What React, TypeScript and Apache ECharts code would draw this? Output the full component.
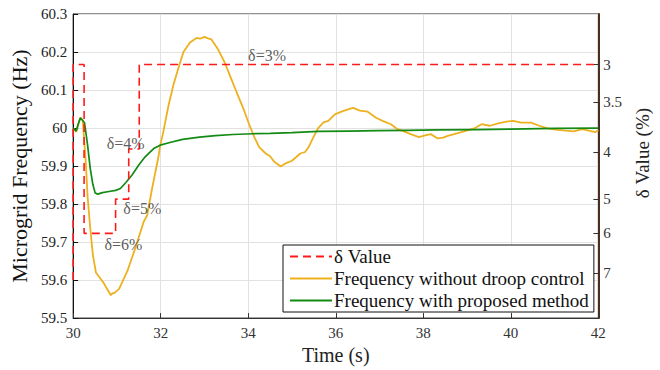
import React, { useEffect, useRef } from "react";
import * as echarts from "echarts";

const FONT = "'Liberation Serif', 'Times New Roman', serif";

// Frequency without droop control (orange)
const orangeTime = [30.0, 30.07, 30.12, 30.165, 30.22, 30.29, 30.33, 30.39, 30.45, 30.52, 30.63, 30.7, 30.75, 30.86, 30.9, 30.93, 31.05, 31.24, 31.42, 31.61, 31.69, 31.8, 31.95, 31.99, 32.06, 32.18, 32.29, 32.4, 32.52, 32.67, 32.82, 32.9, 33.0, 33.08, 33.16, 33.31, 33.46, 33.61, 33.76, 33.91, 34.02, 34.14, 34.25, 34.4, 34.5, 34.59, 34.74, 34.85, 35.0, 35.19, 35.3, 35.38, 35.49, 35.6, 35.72, 35.83, 35.98, 36.13, 36.28, 36.4, 36.55, 36.73, 36.92, 37.07, 37.26, 37.41, 37.56, 37.71, 37.9, 38.02, 38.17, 38.32, 38.45, 38.58, 38.77, 38.99, 39.18, 39.33, 39.52, 39.71, 39.9, 40.05, 40.24, 40.46, 40.65, 40.84, 41.07, 41.25, 41.44, 41.63, 41.78, 41.93, 42.0];
const orangeFreq = [60.0, 59.99, 60.01, 60.027, 60.02, 59.907, 59.82, 59.737, 59.667, 59.62, 59.603, 59.592, 59.582, 59.56, 59.566, 59.565, 59.577, 59.624, 59.684, 59.753, 59.77, 59.839, 59.925, 59.955, 59.99, 60.06, 60.113, 60.156, 60.2, 60.225, 60.237, 60.235, 60.24, 60.236, 60.233, 60.207, 60.173, 60.13, 60.087, 60.045, 60.01, 59.976, 59.95, 59.933, 59.926, 59.912, 59.899, 59.907, 59.914, 59.933, 59.937, 59.95, 59.976, 60.0, 60.015, 60.019, 60.036, 60.043, 60.049, 60.053, 60.046, 60.043, 60.027, 60.019, 60.01, 59.997, 59.991, 59.984, 59.976, 59.98, 59.984, 59.973, 59.975, 59.98, 59.986, 59.993, 60.0, 60.01, 60.006, 60.012, 60.017, 60.019, 60.014, 60.014, 60.006, 59.999, 59.995, 59.993, 59.991, 59.997, 59.993, 59.989, 59.994];

// Frequency with proposed method (green)
const greenTime = [30.0, 30.07, 30.12, 30.165, 30.26, 30.33, 30.39, 30.45, 30.5, 30.56, 30.67, 30.82, 30.97, 31.08, 31.2, 31.35, 31.5, 31.65, 31.84, 31.99, 32.21, 32.5, 32.89, 33.25, 33.65, 34.1, 34.5, 35.0, 35.6, 36.3, 36.96, 37.6, 38.32, 39.2, 40.0, 41.0, 42.0];
const greenFreq = [60.0, 59.992, 60.012, 60.027, 60.014, 59.955, 59.894, 59.852, 59.83, 59.826, 59.83, 59.833, 59.836, 59.841, 59.856, 59.877, 59.903, 59.925, 59.946, 59.955, 59.962, 59.97, 59.976, 59.98, 59.983, 59.985, 59.986, 59.988, 59.991, 59.992, 59.993, 59.994, 59.995, 59.996, 59.997, 59.999, 60.0];

// δ value step line (plotted at the δ-axis positions, expressed on the Hz scale)
const deltaTime = [30.0, 30.0, 30.25, 30.25, 30.97, 30.97, 31.27, 31.27, 31.51, 31.51, 42.0];
const deltaLevel = [59.6, 60.167, 60.167, 59.723, 59.723, 59.813, 59.813, 59.945, 59.945, 60.167, 60.167];

// Right (δ) axis tick labels and where they sit on the Hz scale
const deltaTickLabels = ["3", "3.5", "4", "5", "6", "7"];
const deltaTickPos = [60.167, 60.068, 59.937, 59.813, 59.723, 59.618];

// Annotations
const annoText = ["δ=3%", "δ=4%", "δ=5%", "δ=6%"];
const annoTime = [34.43, 31.2, 31.58, 31.15];
const annoFreq = [60.19, 59.96, 59.788, 59.693];

const zip = (a: number[], b: number[]) => a.map((v, i) => [v, b[i]]);

export default function App() {
  const ref = useRef<HTMLDivElement>(null);
  useEffect(() => {
    document.body.style.margin = "0";
    const chart = echarts.init(ref.current!, null, { renderer: "svg" });
    const option: any = {
      animation: false,
      backgroundColor: "#ffffff",
      textStyle: { fontFamily: FONT },
      grid: {
        left: 72,
        right: 57,
        top: 14,
        bottom: 45,
        show: true,
        borderColor: "#222",
        borderWidth: 1,
      },
      legend: {
        data: ["δ Value", "Frequency without droop control", "Frequency with proposed method"],
        orient: "vertical",
        left: 283,
        top: 245,
        padding: [2, 5, 2, 6],
        itemGap: 3,
        itemWidth: 42,
        itemHeight: 14,
        backgroundColor: "#fff",
        borderColor: "#111",
        borderWidth: 1,
        borderRadius: 0,
        itemStyle: { color: "rgba(0,0,0,0)", borderWidth: 0, opacity: 0 },
        textStyle: { fontFamily: FONT, fontSize: 19, color: "#111", padding: [0, 0, 0, -3] },
      },
      xAxis: {
        type: "value",
        min: 30,
        max: 42,
        interval: 2,
        name: "Time (s)",
        nameLocation: "middle",
        nameGap: 22,
        nameTextStyle: { fontFamily: FONT, fontSize: 20, color: "#222" },
        axisLine: { show: true, lineStyle: { color: "#333" } },
        axisTick: { show: true, inside: true, length: 5, lineStyle: { color: "#333" } },
        axisLabel: { fontFamily: FONT, fontSize: 15, color: "#333", margin: 7 },
        splitLine: { show: true, lineStyle: { color: "#e2e2e2" } },
      },
      yAxis: [
        {
          type: "value",
          min: 59.5,
          max: 60.3,
          interval: 0.1,
          name: "Microgrid Frequency (Hz)",
          nameLocation: "middle",
          nameGap: 39,
          nameTextStyle: { fontFamily: FONT, fontSize: 22, color: "#111" },
          axisLine: { show: true, lineStyle: { color: "#111" } },
          axisTick: { show: true, inside: true, length: 5, lineStyle: { color: "#111" } },
          axisLabel: {
            fontFamily: FONT,
            fontSize: 15,
            color: "#222",
            margin: 6,
            formatter: (v: number) => String(Number(v.toFixed(1))),
          },
          splitLine: { show: true, lineStyle: { color: "#e2e2e2" } },
        },
        {
          type: "value",
          position: "right",
          min: 59.5,
          max: 60.3,
          name: "δ Value (%)",
          nameLocation: "middle",
          nameGap: 25,
          nameRotate: 90,
          nameTextStyle: { fontFamily: FONT, fontSize: 19, color: "#222", padding: [0, 0, 0, 26] },
          axisLine: { show: true, lineStyle: { color: "#4a2e20", width: 2 } },
          axisTick: {
            show: true,
            inside: true,
            length: 5,
            customValues: deltaTickPos,
            lineStyle: { color: "#333" },
          },
          axisLabel: {
            fontFamily: FONT,
            fontSize: 15,
            color: "#333",
            margin: 5,
            customValues: deltaTickPos,
            formatter: (v: number) => {
              let best = 0;
              deltaTickPos.forEach((p, i) => {
                if (Math.abs(p - v) < Math.abs(deltaTickPos[best] - v)) best = i;
              });
              return deltaTickLabels[best];
            },
          },
          splitLine: { show: false },
        },
      ],
      series: [
        {
          name: "Frequency without droop control",
          type: "line",
          data: zip(orangeTime, orangeFreq),
          showSymbol: false,
          lineStyle: { color: "#EDB120", width: 1.8 },
          itemStyle: { color: "#EDB120" },
          z: 3,
        },
        {
          name: "Frequency with proposed method",
          type: "line",
          data: zip(greenTime, greenFreq),
          showSymbol: false,
          lineStyle: { color: "#138a13", width: 1.7 },
          itemStyle: { color: "#138a13" },
          z: 4,
        },
        {
          name: "δ Value",
          type: "line",
          data: zip(deltaTime, deltaLevel),
          showSymbol: false,
          lineStyle: { color: "#ff1a1a", width: 1.6, type: [8, 5] },
          itemStyle: { color: "#ff1a1a" },
          z: 5,
        },
        {
          name: "annotations",
          type: "scatter",
          data: annoTime.map((t, i) => [t, annoFreq[i], annoText[i]]),
          symbolSize: 1,
          itemStyle: { color: "rgba(0,0,0,0)" },
          silent: true,
          label: {
            show: true,
            position: "inside",
            fontFamily: FONT,
            fontSize: 16,
            color: "#333",
            formatter: (p: any) => p.value[2],
          },
          z: 6,
        },
      ],
    };
    chart.setOption(option);
    return () => chart.dispose();
  }, []);
  return <div ref={ref} style={{ width: 660, height: 370 }} />;
}
